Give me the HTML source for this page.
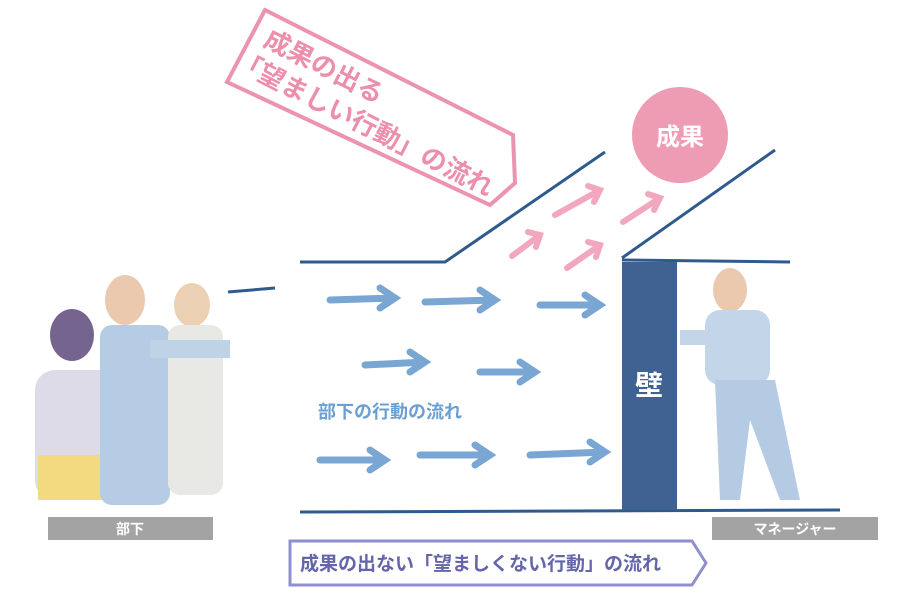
<!DOCTYPE html>
<html><head><meta charset="utf-8"><style>
body{margin:0;background:#fff}
svg{display:block}
text{font-family:"Liberation Sans","Noto Sans CJK JP",sans-serif;font-weight:bold}
</style></head><body>
<svg width="900" height="600" viewBox="0 0 900 600" xmlns="http://www.w3.org/2000/svg">
<defs>
<marker id="ab" markerWidth="4" markerHeight="4" refX="2" refY="2" orient="auto"><path d="M0,0 L3,2 L0,4" fill="none" stroke="#6f9fd0" stroke-width="1"/></marker>
</defs>
<!-- pink tag -->
<polygon points="265,10 513,135 515,183 490,205 227,82" fill="none" stroke="#ec93ad" stroke-width="4"/>
<g fill="#ec8fab" font-size="26" transform="rotate(27 262 45)">
<text x="262" y="45">成果の出る</text>
<text x="246" y="78">「望ましい行動」の流れ</text>
</g>
<!-- flow lines -->
<g stroke="#2f5a8e" stroke-width="3" fill="none">
<polyline points="300,262 445,262 605,152"/>
<polyline points="622,258 775,150"/>
<line x1="622" y1="260" x2="790" y2="262"/>
<line x1="300" y1="512" x2="840" y2="510"/>
<line x1="228" y1="292" x2="275" y2="288"/>
</g>
<!-- wall -->
<rect x="622" y="262" width="55" height="248" fill="#3f6292"/>
<text x="649" y="395" font-size="28" fill="#fff" text-anchor="middle">壁</text>
<!-- result circle -->
<circle cx="680" cy="135" r="48" fill="#ee9cb4"/>
<text x="680" y="145" font-size="24" fill="#fff" text-anchor="middle">成果</text>
<!-- pink arrows -->
<g stroke="#f2a7bd" stroke-width="6" fill="none" stroke-linecap="round">
<path d="M555,215 L600,190 M588,186 L600,190 L594,202"/>
<path d="M623,222 L660,198 M648,194 L660,198 L654,210"/>
<path d="M512,256 L540,235 M528,232 L540,235 L536,247"/>
<path d="M567,268 L600,245 M588,242 L600,245 L596,257"/>
</g>
<!-- blue arrows -->
<g stroke="#7aa6d3" stroke-width="7" fill="none" stroke-linecap="round">
<path d="M330,300 L395,298 M380,288 L395,298 L380,308"/>
<path d="M425,302 L495,300 M480,290 L495,300 L480,310"/>
<path d="M540,305 L600,305 M585,295 L600,305 L585,315"/>
<path d="M365,365 L425,362 M410,352 L425,362 L410,372"/>
<path d="M480,372 L535,372 M520,362 L535,372 L520,382"/>
<path d="M320,460 L385,460 M370,450 L385,460 L370,470"/>
<path d="M420,455 L490,455 M475,445 L490,455 L475,465"/>
<path d="M530,455 L605,452 M590,442 L605,452 L590,462"/>
</g>
<text x="318" y="418" font-size="18" fill="#6a9fd2" font-weight="normal">部下の行動の流れ</text>
<!-- people approximations -->
<g opacity="0.85">
<ellipse cx="72" cy="335" rx="22" ry="26" fill="#5c4a7c"/>
<rect x="35" y="370" width="85" height="130" rx="20" fill="#d9d5e6"/>
<rect x="38" y="455" width="70" height="45" fill="#f2d46a"/>
<ellipse cx="125" cy="300" rx="20" ry="25" fill="#e8c0a0"/>
<rect x="100" y="325" width="70" height="180" rx="12" fill="#a9c4e0"/>
<ellipse cx="192" cy="305" rx="18" ry="22" fill="#e8c8a8"/>
<rect x="168" y="325" width="55" height="170" rx="12" fill="#e4e6e0"/>
<rect x="150" y="340" width="80" height="18" fill="#b5cce2"/>
<ellipse cx="730" cy="290" rx="17" ry="22" fill="#e8c0a0"/>
<rect x="705" y="310" width="65" height="75" rx="15" fill="#b9d0e6"/>
<path d="M715,380 L775,380 L800,500 L780,500 L750,420 L740,500 L720,500 Z" fill="#a8c2df"/>
<path d="M680,330 L710,330 L710,345 L680,345 Z" fill="#b9d0e6"/>
</g>
<!-- gray labels -->
<rect x="48" y="517" width="165" height="23" fill="#a3a3a3"/>
<text x="130" y="534" font-size="14" fill="#fff" text-anchor="middle" font-weight="normal">部下</text>
<rect x="712" y="517" width="166" height="23" fill="#a3a3a3"/>
<text x="795" y="534" font-size="14" fill="#fff" text-anchor="middle" font-weight="normal">マネージャー</text>
<!-- bottom tag -->
<polygon points="290,541 692,541 706,563 692,585 290,585" fill="none" stroke="#8f8fd0" stroke-width="3"/>
<text x="300" y="570" font-size="19" fill="#6466a8">成果の出ない「望ましくない行動」の流れ</text>
</svg>
</body></html>
